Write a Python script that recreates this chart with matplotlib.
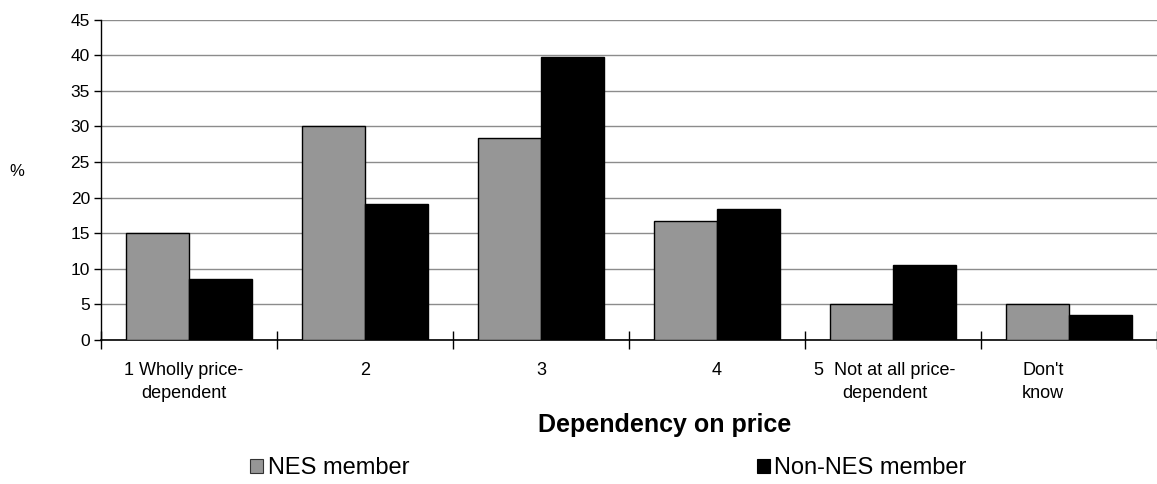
import numpy as np
import matplotlib
matplotlib.use("Agg")
import matplotlib.pyplot as plt
from matplotlib.patches import Rectangle
from matplotlib.transforms import ScaledTranslation

plt.rcParams['font.family'] = ['Liberation Sans', 'DejaVu Sans']

# Daten
kategorien = ["1 Wholly price-\ndependent", "2", "3", "4",
              "5  Not at all price-\ndependent", "Don't\nknow"]
nes_member = [15.0, 30.0, 28.3, 16.7, 5.0, 5.0]
non_nes_member = [8.5, 19.1, 39.7, 18.4, 10.6, 3.5]
serien = ["NES member", "Non-NES member"]
y_ticks = [0, 5, 10, 15, 20, 25, 30, 35, 40, 45]

grau = '#969696'
schwarz = '#000000'

fig = plt.figure(figsize=(11.57, 4.84), dpi=100)
ax = fig.add_axes([101 / 1157, 1 - 340 / 484, 1 - 101 / 1157, 320.5 / 484])

x = np.arange(len(kategorien))
breite = 0.358
ax.bar(x - breite / 2, nes_member, breite, color=grau, edgecolor='black', linewidth=1, zorder=3)
ax.bar(x + breite / 2, non_nes_member, breite, color=schwarz, edgecolor='black', linewidth=1, zorder=3)

ax.set_xlim(-0.5, len(kategorien) - 0.5)
ax.set_ylim(0, 45)
ax.set_yticks(y_ticks)
ax.yaxis.grid(True, color='#8c8c8c', linewidth=1, zorder=0)
ax.set_axisbelow(True)

for s in ['top', 'right']:
    ax.spines[s].set_visible(False)
ax.spines['left'].set_linewidth(1)
ax.spines['bottom'].set_linewidth(1.2)

ax.tick_params(axis='y', direction='out', length=5, width=1, labelsize=12.5, pad=3)

# Striche an den Kategoriegrenzen, Beschriftungen in der Mitte
ax.set_xticks(np.arange(len(kategorien) + 1) - 0.5, minor=True)
ax.set_xticks(x)
ax.set_xticklabels(kategorien, fontsize=13, linespacing=1.45)
ax.tick_params(axis='x', which='major', length=0, pad=16)
ax.tick_params(axis='x', which='minor', direction='inout', length=13, width=1)

for lbl, dx in zip(ax.get_xticklabels(), [-5, 0, 0, 0, -8, -26]):
    lbl.set_transform(lbl.get_transform() + ScaledTranslation(dx / 100, 0, fig.dpi_scale_trans))

fig.text(17 / 1157, 1 - 172 / 484, "%", fontsize=12, ha='center', va='center')
fig.text(665 / 1157, 1 - 425 / 484, "Dependency on price", fontsize=18,
         fontweight='bold', ha='center', va='center')

handles = [Rectangle((0, 0), 1, 1, facecolor=grau, edgecolor='#333333', linewidth=0.8),
           Rectangle((0, 0), 1, 1, facecolor=schwarz, edgecolor='black', linewidth=0.8)]
fig.legend(handles, serien, loc='center left', bbox_to_anchor=(250 / 1157, 1 - 468 / 484),
           ncol=2, frameon=False, fontsize=17, borderpad=0, borderaxespad=0,
           handlelength=0.55, handleheight=0.55, handletextpad=0.21, columnspacing=14.7)

fig.savefig("out.png", dpi=100)
